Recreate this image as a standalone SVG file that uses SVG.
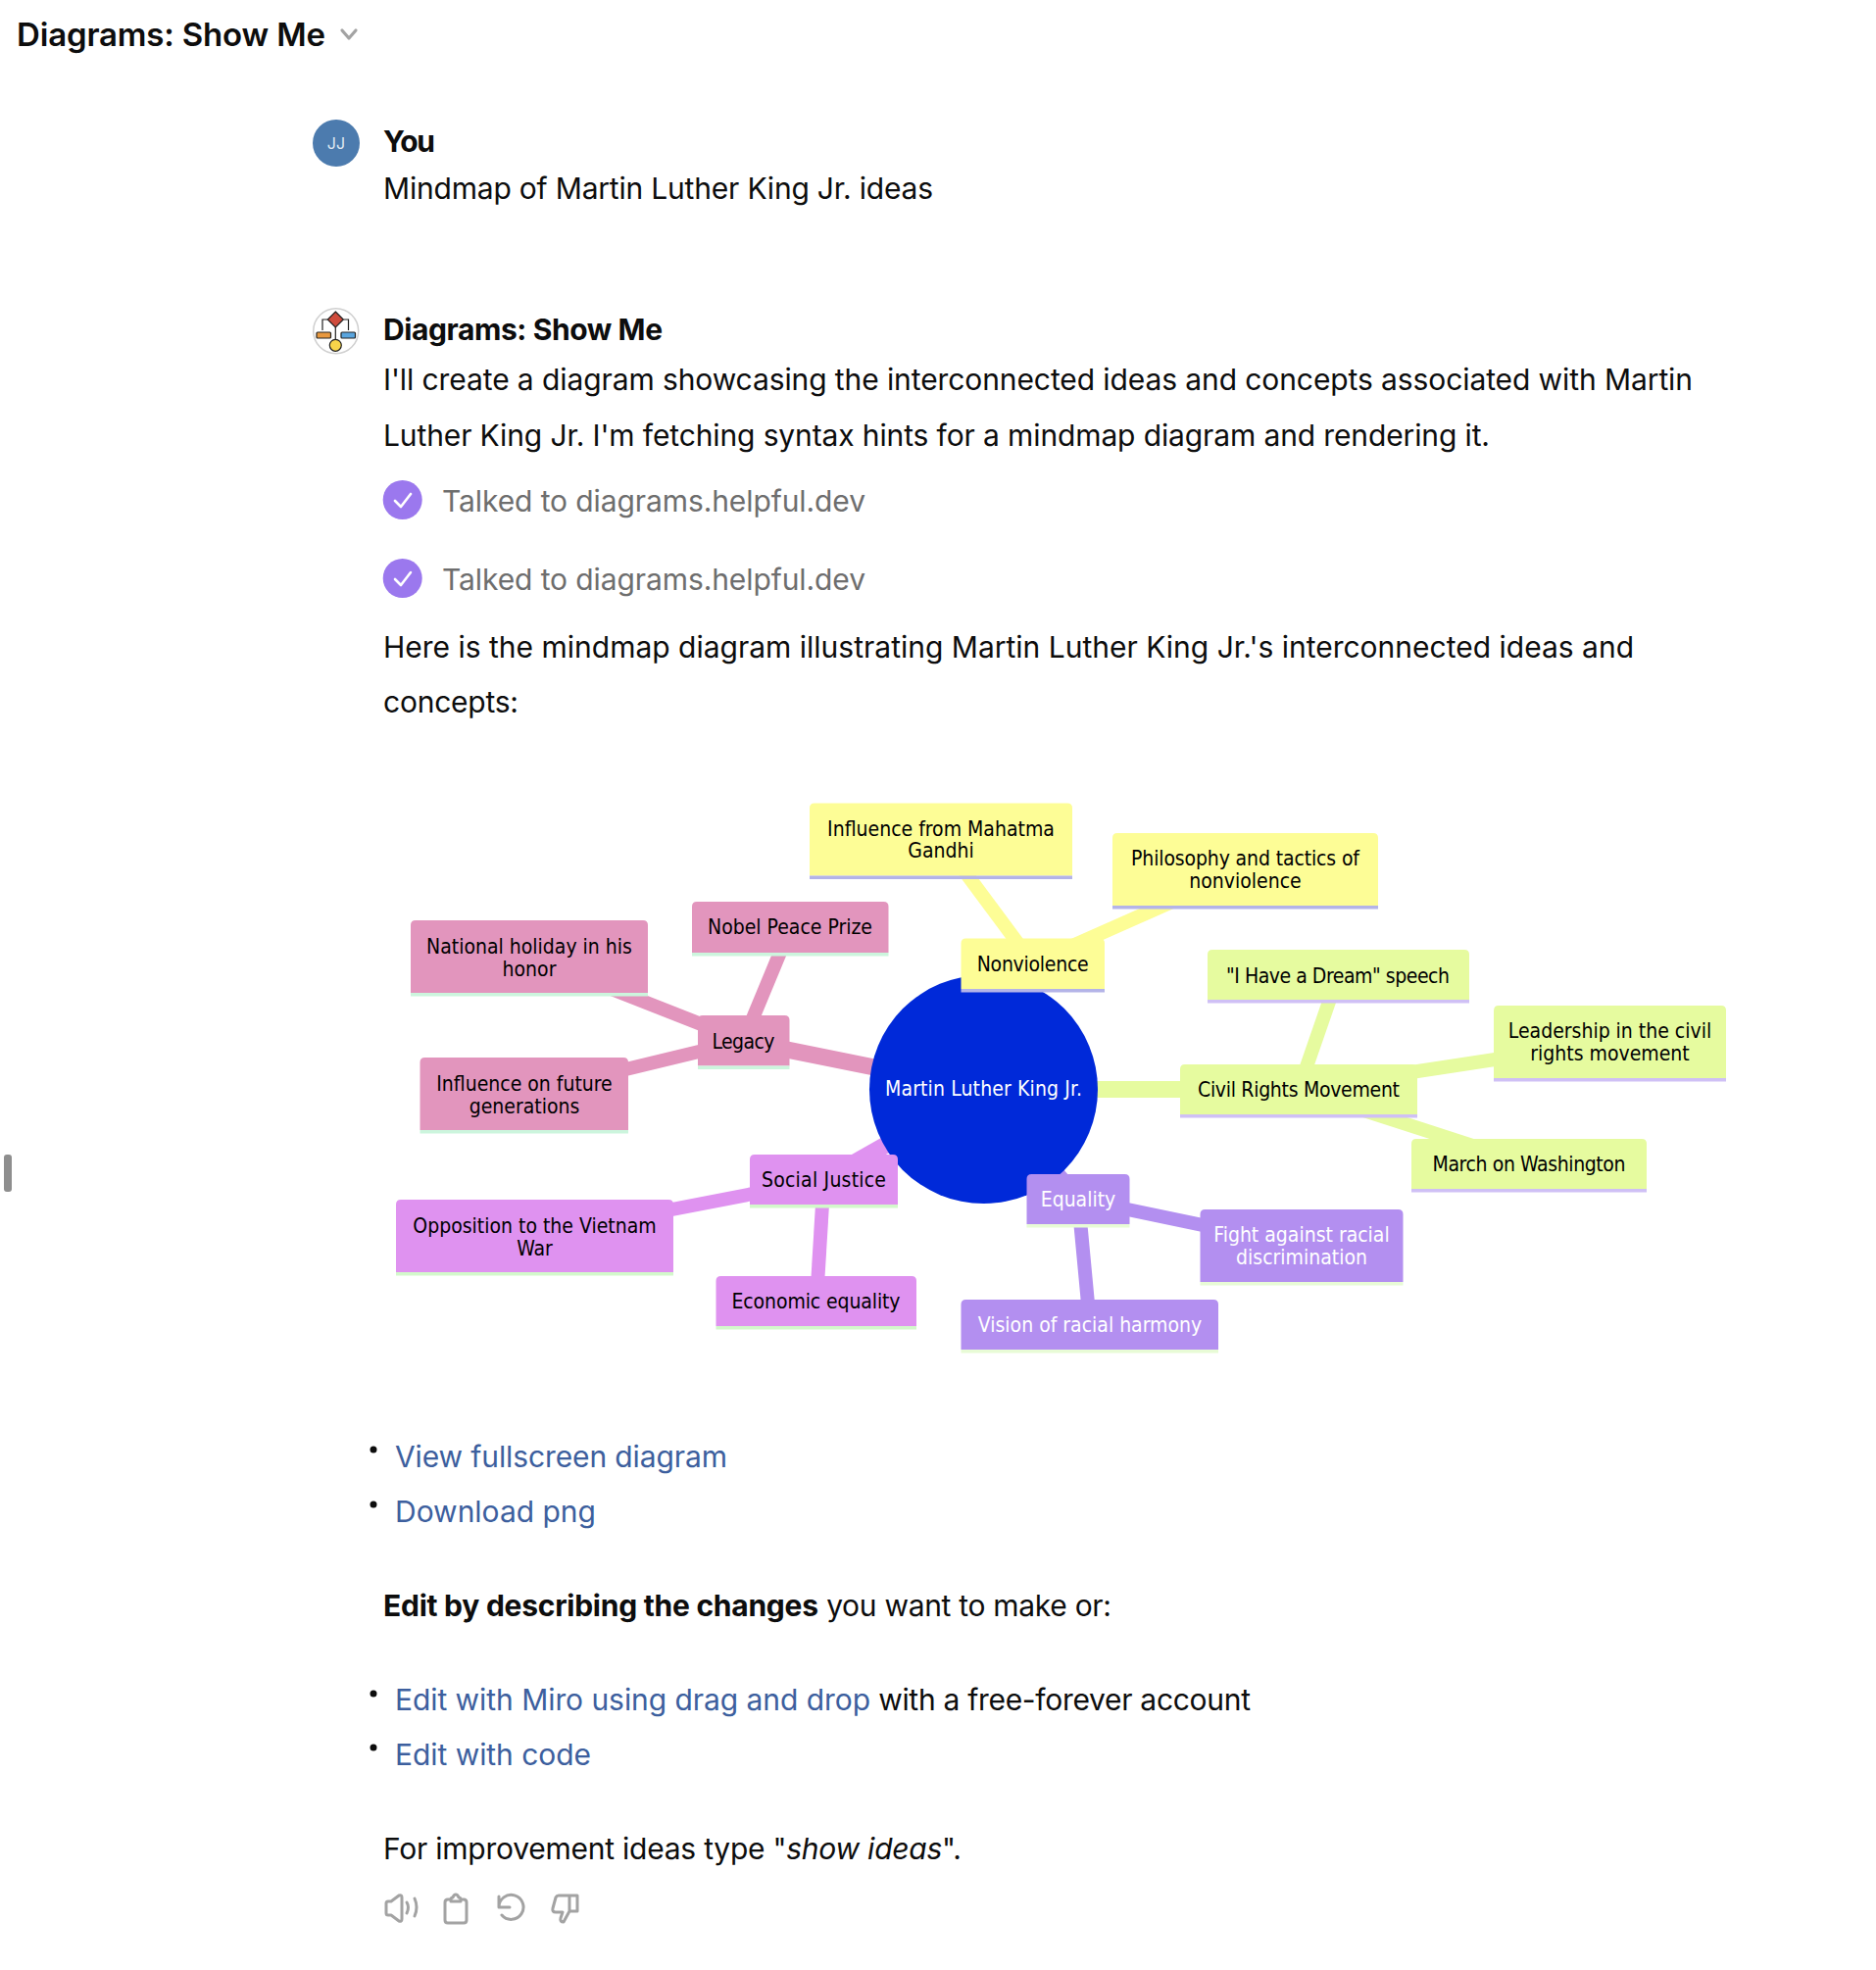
<svg xmlns="http://www.w3.org/2000/svg" width="1914" height="2010" viewBox="0 0 1914 2010">
<style>
text{font-family:"Inter","Liberation Sans",sans-serif;font-size:30px;fill:#0d0d0d}
.b{font-weight:700}.m{font-weight:600;font-size:33px}
.g{fill:#6e6e6e}.l{fill:#3d5f9e}
.n{font-family:"DejaVu Sans",sans-serif;font-stretch:condensed;font-size:21px;text-anchor:middle;fill:#000}
.w{fill:#fff}
.y{fill:#fdfd96}.yb{stroke:#b4b4e8}
.p{fill:#e295bd}.pb{stroke:#ccf5dd}
.v{fill:#df92f0}.vb{stroke:#d3f8cb}
.e{fill:#b38ff0}.eb{stroke:#e8fbd6}
.c{fill:#e6fb9f}.cb{stroke:#cfc0f5}
.bl{stroke-width:3.5;fill:none}
.ic{fill:none;stroke:#a3a3a3;stroke-width:3;stroke-linecap:round;stroke-linejoin:round}
.dot{fill:#0d0d0d}
</style>
<rect width="1914" height="2010" fill="#fff"/>
<rect x="4" y="1178" width="8" height="38" rx="3" fill="#8e8e8e"/>
<text class="m" x="17" y="47" textLength="315">Diagrams: Show Me</text>
<path d="M349 31l7 8 7-8" fill="none" stroke="#a3a3a3" stroke-width="3.2" stroke-linecap="round" stroke-linejoin="round"/>
<g id="avatar-you"><circle cx="343" cy="146" r="24" fill="#4c7bae"/><text x="343" y="152" text-anchor="middle" style="font-size:16px;fill:#dfe8f2">JJ</text></g>
<text class="b" x="391" y="155" textLength="53">You</text>
<text x="391" y="203" textLength="561">Mindmap of Martin Luther King Jr. ideas</text>
<g id="avatar-plugin"><circle cx="342.7" cy="337.7" r="23" fill="#fff" stroke="#d0d0d0" stroke-width="1.5"/>
<path d="M342.3 318l8 8-8 8-8-8z" fill="#cf4b3c" stroke="#222" stroke-width="1.2"/>
<path d="M334 326h-5v11M350.5 326h5v11M342.3 334v12" fill="none" stroke="#222" stroke-width="1.2"/>
<rect x="323" y="339" width="14.5" height="6" rx="1" fill="#e8983f" stroke="#222" stroke-width="1.2"/>
<rect x="348" y="339" width="14.5" height="6" rx="1" fill="#5aa5de" stroke="#222" stroke-width="1.2"/>
<circle cx="342.3" cy="352.3" r="6" fill="#f7d54a" stroke="#222" stroke-width="1.2"/></g>
<text class="b" x="391" y="347" textLength="285">Diagrams: Show Me</text>
<text x="391" y="398" textLength="1336">I'll create a diagram showcasing the interconnected ideas and concepts associated with Martin</text>
<text x="391" y="455" textLength="1129">Luther King Jr. I'm fetching syntax hints for a mindmap diagram and rendering it.</text>
<circle cx="410.7" cy="510" r="20" fill="#9b78ee"/><path d="M403 511l6 6 10-13" fill="none" stroke="#fff" stroke-width="2.6" stroke-linecap="round" stroke-linejoin="round"/>
<text class="g" x="451" y="522" textLength="432">Talked to diagrams.helpful.dev</text>
<circle cx="410.7" cy="590" r="20" fill="#9b78ee"/><path d="M403 591l6 6 10-13" fill="none" stroke="#fff" stroke-width="2.6" stroke-linecap="round" stroke-linejoin="round"/>
<text class="g" x="451" y="602" textLength="432">Talked to diagrams.helpful.dev</text>
<text x="391" y="671" textLength="1276">Here is the mindmap diagram illustrating Martin Luther King Jr.'s interconnected ideas and</text>
<text x="391" y="727" textLength="138">concepts:</text>

<g id="connectors" fill="none" stroke-linecap="butt">
<g stroke="#e295bd"><line x1="758.5" y1="1062" x2="1003.5" y2="1111.5" stroke-width="17"/><line x1="806" y1="947.5" x2="758.5" y2="1062" stroke-width="14"/><line x1="540" y1="976" x2="758.5" y2="1062" stroke-width="14"/><line x1="535" y1="1116" x2="758.5" y2="1062" stroke-width="14"/></g>
<g stroke="#df92f0"><line x1="840.5" y1="1204" x2="1003.5" y2="1111.5" stroke-width="17"/><line x1="545.5" y1="1261" x2="840.5" y2="1204" stroke-width="14"/><line x1="833" y1="1328" x2="840.5" y2="1204" stroke-width="14"/></g>
<g stroke="#fdfd96"><line x1="1053.7" y1="983" x2="1003.5" y2="1111.5" stroke-width="17"/><line x1="960" y1="856.5" x2="1053.7" y2="983" stroke-width="14"/><line x1="1270.5" y1="887" x2="1053.7" y2="983" stroke-width="14"/></g>
<g stroke="#e6fb9f"><line x1="1325" y1="1111.5" x2="1003.5" y2="1111.5" stroke-width="17"/><line x1="1365.5" y1="994.5" x2="1325" y2="1111.5" stroke-width="14"/><line x1="1642.5" y1="1063" x2="1325" y2="1111.5" stroke-width="14"/><line x1="1560" y1="1187.5" x2="1325" y2="1111.5" stroke-width="14"/></g>
<g stroke="#b38ff0"><line x1="1100" y1="1223.5" x2="1003.5" y2="1111.5" stroke-width="17"/><line x1="1328" y1="1271" x2="1100" y2="1223.5" stroke-width="14"/><line x1="1112" y1="1351.5" x2="1100" y2="1223.5" stroke-width="14"/></g>
</g>

<g id="root"><circle cx="1003.5" cy="1111.5" r="116.5" fill="#0029d9"/><text class="n w" x="1003.5" y="1117.5" textLength="201">Martin Luther King Jr.</text></g>

<g id="nonviolence"><path class="y" d="M980.5 1009V962.5q0-5 5-5H1122q5 0 5 5V1009Z"/><line class="bl yb" x1="980.5" y1="1010.7" x2="1127" y2="1010.7"/><text class="n" x="1053.7" y="990.5" textLength="114">Nonviolence</text></g>
<g id="mahatma"><path class="y" d="M826 893.5V824.5q0-5 5-5H1089q5 0 5 5V893.5Z"/><line class="bl yb" x1="826" y1="895.2" x2="1094" y2="895.2"/><text class="n" x="960" y="852.5">Influence from Mahatma</text><text class="n" x="960" y="874.5">Gandhi</text></g>
<g id="philosophy"><path class="y" d="M1135 924V855q0-5 5-5H1401q5 0 5 5V924Z"/><line class="bl yb" x1="1135" y1="925.7" x2="1406" y2="925.7"/><text class="n" x="1270.5" y="882.5" textLength="233">Philosophy and tactics of</text><text class="n" x="1270.5" y="905.5">nonviolence</text></g>

<g id="civil-rights"><path class="c" d="M1204 1137V1091q0-5 5-5H1441q5 0 5 5V1137Z"/><line class="bl cb" x1="1204" y1="1138.7" x2="1446" y2="1138.7"/><text class="n" x="1325" y="1119" textLength="206">Civil Rights Movement</text></g>
<g id="dream"><path class="c" d="M1232 1020V974q0-5 5-5H1494q5 0 5 5V1020Z"/><line class="bl cb" x1="1232" y1="1021.7" x2="1499" y2="1021.7"/><text class="n" x="1365" y="1003" textLength="228">"I Have a Dream" speech</text></g>
<g id="leadership"><path class="c" d="M1524 1100V1031q0-5 5-5H1756q5 0 5 5V1100Z"/><line class="bl cb" x1="1524" y1="1101.7" x2="1761" y2="1101.7"/><text class="n" x="1642.5" y="1059">Leadership in the civil</text><text class="n" x="1642.5" y="1082">rights movement</text></g>
<g id="march"><path class="c" d="M1440 1213V1167q0-5 5-5H1675q5 0 5 5V1213Z"/><line class="bl cb" x1="1440" y1="1214.7" x2="1680" y2="1214.7"/><text class="n" x="1560" y="1195" textLength="197">March on Washington</text></g>

<g id="legacy"><path class="p" d="M712 1087.5V1041q0-5 5-5H800.5q5 0 5 5V1087.5Z"/><line class="bl pb" x1="712" y1="1089.2" x2="805.5" y2="1089.2"/><text class="n" x="758.5" y="1070" textLength="64">Legacy</text></g>
<g id="nobel"><path class="p" d="M706 972V925q0-5 5-5H901.5q5 0 5 5V972Z"/><line class="bl pb" x1="706" y1="973.7" x2="906.5" y2="973.7"/><text class="n" x="806" y="953">Nobel Peace Prize</text></g>
<g id="holiday"><path class="p" d="M419 1013V944q0-5 5-5H656q5 0 5 5V1013Z"/><line class="bl pb" x1="419" y1="1014.7" x2="661" y2="1014.7"/><text class="n" x="540" y="973">National holiday in his</text><text class="n" x="540" y="996">honor</text></g>
<g id="future"><path class="p" d="M428.5 1153V1084q0-5 5-5H636q5 0 5 5V1153Z"/><line class="bl pb" x1="428.5" y1="1154.7" x2="641" y2="1154.7"/><text class="n" x="535" y="1113">Influence on future</text><text class="n" x="535" y="1136">generations</text></g>

<g id="social"><path class="v" d="M765 1229V1183q0-5 5-5H911q5 0 5 5V1229Z"/><line class="bl vb" x1="765" y1="1230.7" x2="916" y2="1230.7"/><text class="n" x="840.5" y="1211" textLength="127">Social Justice</text></g>
<g id="vietnam"><path class="v" d="M404 1298V1229q0-5 5-5H682q5 0 5 5V1298Z"/><line class="bl vb" x1="404" y1="1299.7" x2="687" y2="1299.7"/><text class="n" x="545.500" y="1258">Opposition to the Vietnam</text><text class="n" x="545.5" y="1281">War</text></g>
<g id="economic"><path class="v" d="M730.5 1353V1307q0-5 5-5H930q5 0 5 5V1353Z"/><line class="bl vb" x1="730.5" y1="1354.7" x2="935" y2="1354.7"/><text class="n" x="832.5" y="1335" textLength="172">Economic equality</text></g>

<g id="equality"><path class="e" d="M1047.5 1249V1203q0-5 5-5H1147.5q5 0 5 5V1249Z"/><line class="bl eb" x1="1047.5" y1="1250.7" x2="1152.5" y2="1250.7"/><text class="n w" x="1100" y="1231">Equality</text></g>
<g id="fight"><path class="e" d="M1224.5 1308V1239q0-5 5-5H1426.5q5 0 5 5V1308Z"/><line class="bl eb" x1="1224.5" y1="1309.7" x2="1431.5" y2="1309.7"/><text class="n w" x="1328" y="1267">Fight against racial</text><text class="n w" x="1328" y="1290">discrimination</text></g>
<g id="vision"><path class="e" d="M980.5 1377V1331q0-5 5-5H1238q5 0 5 5V1377Z"/><line class="bl eb" x1="980.5" y1="1378.7" x2="1243" y2="1378.7"/><text class="n w" x="1112" y="1359">Vision of racial harmony</text></g>

<circle class="dot" cx="381" cy="1479" r="3.5"/>
<text class="l" x="403" y="1497" textLength="339">View fullscreen diagram</text>
<circle class="dot" cx="381" cy="1535" r="3.5"/>
<text class="l" x="403" y="1553" textLength="205">Download png</text>
<text x="391" y="1649"><tspan class="b" textLength="444">Edit by describing the changes</tspan><tspan x="835" textLength="299"> you want to make or:</tspan></text>
<circle class="dot" cx="381" cy="1728" r="3.5"/>
<text x="403" y="1745"><tspan class="l" textLength="485">Edit with Miro using drag and drop</tspan><tspan x="888" textLength="388"> with a free-forever account</tspan></text>
<circle class="dot" cx="381" cy="1783" r="3.5"/>
<text class="l" x="403" y="1801" textLength="200">Edit with code</text>
<text x="391" y="1897" textLength="590">For improvement ideas type "<tspan font-style="italic">show ideas</tspan>".</text>

<g id="actions">
<path class="ic" d="M394 1942v10q0 2 2 2h3l8 6q3 1 3-2v-22q0-3-3-2l-8 6h-3q-2 0-2 2zM415 1941q3 5 0 11M423 1937q4 9 0 18"/>
<path class="ic" d="M460 1938h-3q-3 0-3 3v18q0 3 3 3h16q3 0 3-3v-18q0-3-3-3h-3M460 1940v-2q0-2 2-2 1-3 3-3t3 3q2 0 2 2v2z"/>
<path class="ic" d="M509 1935v11h11M509 1946a12.5 12.5 0 1 1 3 8"/>
<path class="ic" d="M581 1950v-16h8v16zM581 1934h-11q-2 0-3 2l-3 11q-1 4 3 4h7l-2 6q-1 4 3 4l6-11"/>
</g>
</svg>
